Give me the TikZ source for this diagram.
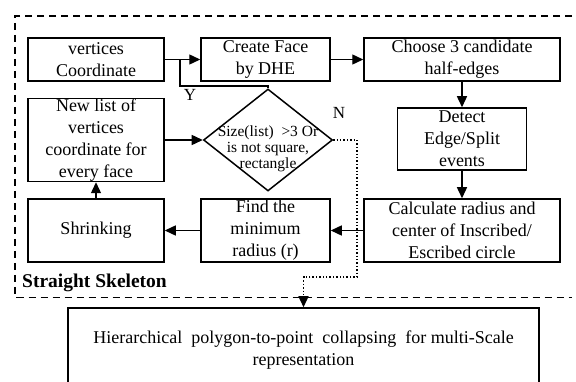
\documentclass[tikz,border=0pt]{standalone}
\usepackage{fontspec}
\setmainfont{Liberation Serif}
\usetikzlibrary{arrows.meta,shapes.geometric}
\tikzset{
  box/.style={draw, line width=1.5pt, inner sep=0pt, align=center, font=\fontsize{18}{22}\selectfont},
  arr/.style={line width=1.4pt, -{Triangle[length=11pt,width=10pt]}},
  plain/.style={line width=1.4pt},
  dotarr/.style={line width=1.4pt, dotted, -{Triangle[length=11pt,width=10pt]}},
  frame/.style={line width=1.5pt, dash pattern=on 7pt off 5pt},
  lbl/.style={inner sep=0pt, font=\fontsize{17}{20}\selectfont}
}
\begin{document}
\begin{tikzpicture}[x=1pt,y=-1pt]
\useasboundingbox (0,0) rectangle (576,382);
\clip (0,0) rectangle (576,382);
\fill[white] (0,0) rectangle (576,382);
% dashed frame (open on the right)
\draw[frame] (572,16) -- (15,16) -- (15,297.5) -- (572,297.5);
% boxes
\node[box, minimum width=136pt, minimum height=43pt] (v) at (96,59.5) {vertices\\Coordinate};
\node[box, minimum width=129pt, minimum height=43pt] (cf) at (265.5,59.5) {Create Face\\by DHE};
\node[box, minimum width=196pt, minimum height=43pt] (ch) at (462,59.5) {Choose 3 candidate\\half-edges};
\node[box, minimum width=129pt, minimum height=62pt] (de) at (462,139) {Detect\\Edge/Split\\events};
\node[box, minimum width=196pt, minimum height=63pt] (ca) at (462,230.5) {Calculate radius and\\center of Inscribed/\\Escribed circle};
\node[box, minimum width=129pt, minimum height=63pt] (fi) at (265.5,230.5) {Find the\\minimum\\radius (r)};
\node[box, minimum width=136pt, minimum height=63pt] (sh) at (96,230.5) {Shrinking};
\node[box, minimum width=136pt, minimum height=83pt] (nl) at (96,140) {New list of\\vertices\\coordinate for\\every face};
\node[draw, shape=diamond, line width=1.5pt, inner sep=0pt, minimum width=129pt, minimum height=102pt] (dia) at (268,140) {};
\node[inner sep=0pt, align=center, font=\fontsize{15.5}{16}\selectfont] (diat) at (268,149) {Size(list)\ \ >3 Or\\is not square,\\rectangle};
\node[box, minimum width=471pt, minimum height=84pt] (bb) at (303.5,350) {Hierarchical\ \ polygon-to-point\ \ collapsing\ \ for multi-Scale\\representation};
% labels
\node[lbl] (ly) at (190,95) {Y};
\node[lbl] (ln) at (339,113) {N};
\node[inner sep=0pt, anchor=west, font=\fontsize{19.5}{22}\selectfont\bfseries] (ss) at (22,283) {Straight Skeleton};
% coordinates
\coordinate (yj) at (180,86);
\coordinate (ym) at (180,59.5);
\coordinate (d1) at (357,140);
\coordinate (d2) at (357,277);
% connectors
\draw[arr] (v) -- (cf);
\draw[plain] (dia.north) |- (yj) -- (ym);
\draw[arr] (cf) -- (ch);
\draw[arr] (ch) -- (de);
\draw[arr] (de) -- (ca);
\draw[arr] (ca) -- (fi);
\draw[arr] (fi) -- (sh);
\draw[arr] (sh) -- (nl);
\draw[arr] (nl) -- (dia);
\draw[dotarr] (dia.east) -- (d1) -- (d2) -| (bb.north);
\end{tikzpicture}
\end{document}
